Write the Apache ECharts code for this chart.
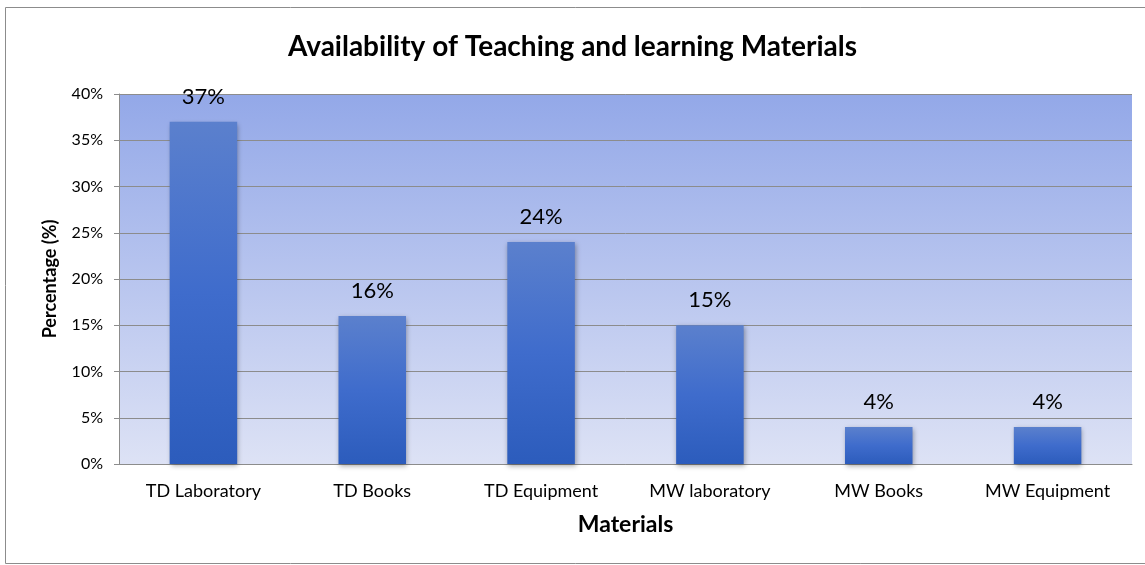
<!DOCTYPE html>
<html>
<head>
<meta charset="utf-8">
<script src="https://cdn.jsdelivr.net/npm/echarts@6/dist/echarts.min.js"></script>
<style>
html,body{margin:0;padding:0;background:#fff;}
#chart{width:1145px;height:565px;}
</style>
</head>
<body>
<div id="chart"></div>
<script>
const categories = ['TD Laboratory', 'TD Books', 'TD Equipment', 'MW laboratory', 'MW Books', 'MW Equipment'];
const values = [37, 16, 24, 15, 4, 4];
const yTicks = [0, 5, 10, 15, 20, 25, 30, 35, 40];

const FONT = 'Lato, "Open Sans", sans-serif';
const chart = echarts.init(document.getElementById('chart'), null, {renderer: 'canvas'});
chart.setOption({
  animation: false,
  backgroundColor: '#fff',
  title: {
    text: 'Availability of Teaching and learning Materials',
    left: 'center', top: 28,
    textStyle: {fontFamily: FONT, fontSize: 28, fontWeight: 'bold', color: '#000'}
  },
  graphic: [{
    type: 'rect', z: -10,
    shape: {x: 5.5, y: 7.5, width: 1200, height: 556},
    style: {fill: 'none', stroke: '#8c8c8c', lineWidth: 1}
  }],
  grid: {
    left: 119, right: 13, top: 94, bottom: 101,
    show: true, borderWidth: 0,
    backgroundColor: new echarts.graphic.LinearGradient(0, 0, 0, 1, [
      {offset: 0, color: '#93a8e8'},
      {offset: 1, color: '#dde2f5'}
    ])
  },
  xAxis: {
    type: 'category', data: categories,
    name: 'Materials', nameLocation: 'middle', nameGap: 49,
    nameTextStyle: {fontFamily: FONT, fontSize: 23, fontWeight: 'bold', color: '#000'},
    axisLine: {lineStyle: {color: '#8c8c8c', width: 1}},
    axisTick: {show: false},
    axisLabel: {fontFamily: FONT, fontSize: 18, color: '#000', margin: 18}
  },
  yAxis: {
    type: 'value', min: yTicks[0], max: yTicks[yTicks.length - 1], interval: 5,
    name: 'Percentage (%)', nameLocation: 'middle', nameGap: 60, nameRotate: 90,
    nameTextStyle: {fontFamily: FONT, fontSize: 18, fontWeight: 'bold', color: '#000'},
    axisLine: {show: true, lineStyle: {color: '#8c8c8c', width: 1}},
    axisTick: {show: true, length: 5, lineStyle: {color: '#8c8c8c'}},
    axisLabel: {fontFamily: FONT, fontSize: 16, color: '#000', margin: 16, formatter: '{value}%'},
    splitLine: {lineStyle: {color: '#8c8c8c', width: 1}}
  },
  series: [{
    type: 'bar', data: values, barWidth: '40%',
    itemStyle: {
      color: new echarts.graphic.LinearGradient(0, 0, 0, 1, [
        {offset: 0, color: '#5b80cd'},
        {offset: 0.5, color: '#3f6ccc'},
        {offset: 1, color: '#2c5cbc'}
      ]),
      shadowBlur: 5, shadowColor: 'rgba(0,0,0,0.35)', shadowOffsetX: 1, shadowOffsetY: 2
    },
    label: {
      show: true, position: 'top', distance: 14,
      fontFamily: FONT, fontSize: 22, color: '#000', formatter: '{c}%'
    }
  }]
});
</script>
</body>
</html>
